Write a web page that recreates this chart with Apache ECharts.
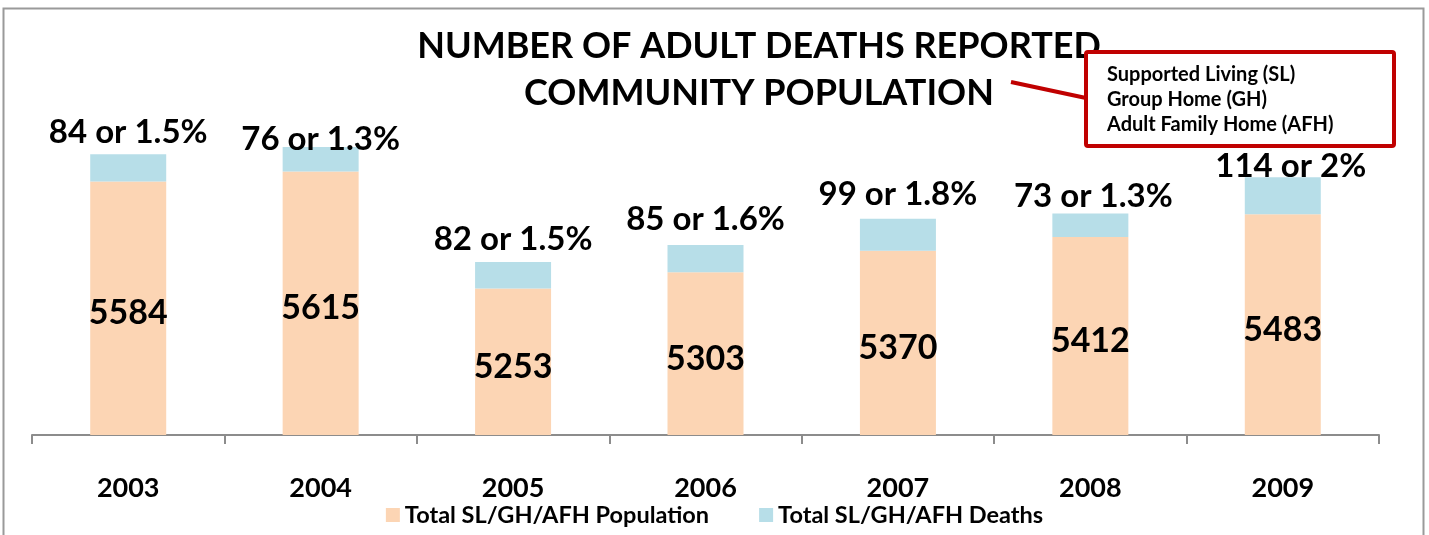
<!DOCTYPE html>
<html><head><meta charset="utf-8">
<script src="https://cdn.jsdelivr.net/npm/echarts@6/dist/echarts.min.js"></script>
<style>html,body{margin:0;padding:0;background:#fff}#c{width:1429px;height:535px}</style>
</head><body><div id="c"></div>
<script>
const years = ['2003','2004','2005','2006','2007','2008','2009'];
const population = [5584, 5615, 5253, 5303, 5370, 5412, 5483];
const deaths = [84, 76, 82, 85, 99, 73, 114];
const deathPct = ['1.5', '1.3', '1.5', '1.6', '1.8', '1.3', '2'];
const titleLines = ['NUMBER OF ADULT DEATHS REPORTED', 'COMMUNITY POPULATION'];
const boxLines = ['Supported Living (SL)', 'Group Home (GH)', 'Adult Family Home (AFH)'];

// layout: manual nudges of the top labels (as placed in the original)
const topLabelShift = [[0, 0], [0, 14], [0, -1], [0, -4], [0, -3], [3, 4], [8, 11]];

const FONT = 'Lato, "Open Sans", sans-serif';
const chart = echarts.init(document.getElementById('c'));
chart.setOption({
  animation: false,
  textStyle: { fontFamily: FONT },
  grid: { left: 32, right: 50, top: 144, bottom: 100, containLabel: false },
  xAxis: {
    type: 'category', data: years,
    axisLine: { lineStyle: { color: '#8c8c8c', width: 2 } },
    axisTick: { show: true, length: 9, lineStyle: { color: '#8c8c8c', width: 2 } },
    axisLabel: { color: '#000', fontSize: 27, fontWeight: 'bold', margin: 40, fontFamily: FONT }
  },
  yAxis: { type: 'value', min: 4800, max: 5700, show: false, splitLine: { show: false } },
  legend: {
    bottom: 3, left: 'center', itemWidth: 14, itemHeight: 14, itemGap: 50,
    icon: 'rect',
    textStyle: { fontSize: 23.5, fontWeight: 'bold', color: '#000', fontFamily: FONT },
    data: ['Total SL/GH/AFH Population', 'Total SL/GH/AFH Deaths']
  },
  series: [
    {
      name: 'Total SL/GH/AFH Population', type: 'bar', stack: 's', barWidth: 76,
      data: population, itemStyle: { color: '#FCD5B4' },
      label: { show: true, position: 'inside', offset: [0, 5], color: '#000', fontSize: 34, fontWeight: 'bold', fontFamily: FONT }
    },
    {
      name: 'Total SL/GH/AFH Deaths', type: 'bar', stack: 's', barWidth: 76,
      data: deaths.map((v, i) => ({ value: v, label: { offset: topLabelShift[i] } })),
      itemStyle: { color: '#B7DEE8' },
      label: {
        show: true, position: 'top', distance: 5, color: '#000', fontSize: 33, fontWeight: 'bold', fontFamily: FONT,
        formatter: p => deaths[p.dataIndex] + ' or ' + deathPct[p.dataIndex] + '%'
      }
    }
  ],
  graphic: [
    { type: 'rect', shape: { x: 3.5, y: 8.5, width: 1420, height: 540 }, style: { fill: 'none', stroke: '#9a9a9a', lineWidth: 2 }, silent: true },
    { type: 'text', x: 759, y: 46, style: { text: titleLines[0], font: 'bold 36px ' + FONT, fill: '#000', align: 'center', verticalAlign: 'middle' } },
    { type: 'text', x: 759, y: 93, style: { text: titleLines[1], font: 'bold 36px ' + FONT, fill: '#000', align: 'center', verticalAlign: 'middle' } },
    { type: 'line', shape: { x1: 1011, y1: 82, x2: 1086, y2: 98 }, style: { stroke: '#C00000', lineWidth: 4 }, z: 10 },
    { type: 'rect', shape: { x: 1086, y: 52, width: 308, height: 94, r: 2 }, style: { fill: '#fff', stroke: '#C00000', lineWidth: 4 }, z: 10 },
    { type: 'text', x: 1107, y: 75, z: 11, style: { text: boxLines[0], font: 'bold 20px ' + FONT, fill: '#000', verticalAlign: 'middle' } },
    { type: 'text', x: 1107, y: 100, z: 11, style: { text: boxLines[1], font: 'bold 20px ' + FONT, fill: '#000', verticalAlign: 'middle' } },
    { type: 'text', x: 1107, y: 125, z: 11, style: { text: boxLines[2], font: 'bold 20px ' + FONT, fill: '#000', verticalAlign: 'middle' } }
  ]
});
</script></body></html>
